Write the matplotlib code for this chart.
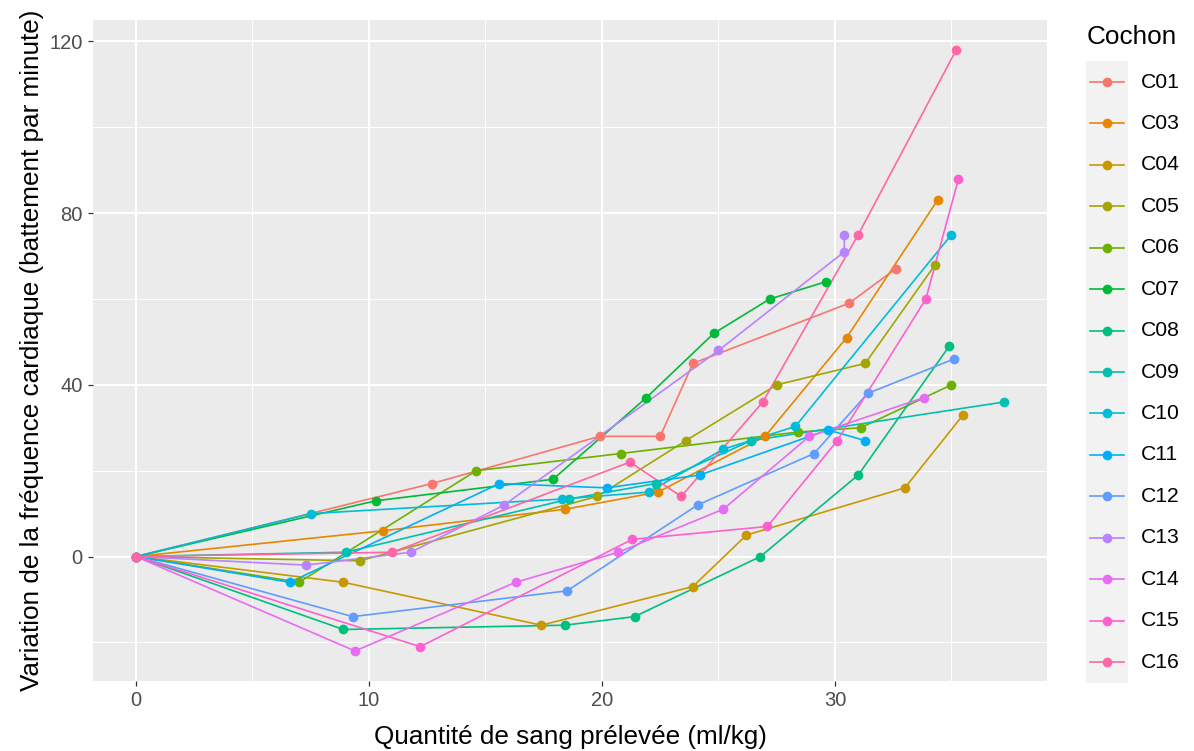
import matplotlib
matplotlib.use("Agg")
import matplotlib.pyplot as plt
from matplotlib.lines import Line2D
from matplotlib.patches import Rectangle
from matplotlib.ticker import MultipleLocator

plt.rcParams['font.family'] = ['Liberation Sans', 'DejaVu Sans']

# ---------------- data ----------------
pigs = ["C01", "C03", "C04", "C05", "C06", "C07", "C08", "C09",
        "C10", "C11", "C12", "C13", "C14", "C15", "C16"]

x_C01 = [0, 12.7, 19.9, 22.5, 23.9, 30.6, 32.6]
y_C01 = [0, 17, 28, 28, 45, 59, 67]
x_C03 = [0, 10.6, 18.4, 22.4, 27.0, 30.5, 34.4]
y_C03 = [0, 6, 11, 15, 28, 51, 83]
x_C04 = [0, 8.9, 17.4, 23.9, 26.2, 33.0, 35.5]
y_C04 = [0, -6, -16, -7, 5, 16, 33]
x_C05 = [0, 9.6, 19.8, 23.6, 27.5, 31.3, 34.3]
y_C05 = [0, -1, 14, 27, 40, 45, 68]
x_C06 = [0, 7.0, 14.6, 20.8, 28.4, 31.1, 35.0]
y_C06 = [0, -6, 20, 24, 29, 30, 40]
x_C07 = [0, 10.3, 17.9, 21.9, 24.8, 27.2, 29.6]
y_C07 = [0, 13, 18, 37, 52, 60, 64]
x_C08 = [0, 8.9, 18.4, 21.4, 26.8, 31.0, 34.9]
y_C08 = [0, -17, -16, -14, 0, 19, 49]
x_C09 = [0, 9.0, 18.6, 22.3, 26.4, 37.25]
y_C09 = [0, 1, 13.4, 17, 27, 36]
x_C10 = [0, 7.5, 18.3, 22.0, 25.2, 28.3, 35.0]
y_C10 = [0, 10, 13.4, 15, 25, 30.3, 75]
x_C11 = [0, 6.6, 15.6, 20.2, 24.2, 29.7, 31.3]
y_C11 = [0, -6, 17, 16, 19, 29.5, 27]
x_C12 = [0, 9.3, 18.5, 24.1, 29.1, 31.4, 35.1]
y_C12 = [0, -14, -8, 12, 24, 38, 46]
x_C13 = [0, 7.3, 11.8, 15.8, 25.0, 30.4, 30.4]
y_C13 = [0, -2, 1, 12, 48, 71, 75]
x_C14 = [0, 9.4, 16.3, 20.7, 25.2, 28.9, 33.8]
y_C14 = [0, -22, -6, 1, 11, 28, 37]
x_C15 = [0, 12.2, 21.3, 27.1, 30.1, 33.9, 35.3]
y_C15 = [0, -21, 4, 7, 27, 60, 88]
x_C16 = [0, 11.0, 21.2, 23.4, 26.9, 31.0, 35.2]
y_C16 = [0, 1, 22, 14, 36, 75, 118]

x_ticks = [0, 10, 20, 30]
y_ticks = [0, 40, 80, 120]

xs = [x_C01, x_C03, x_C04, x_C05, x_C06, x_C07, x_C08, x_C09,
      x_C10, x_C11, x_C12, x_C13, x_C14, x_C15, x_C16]
ys = [y_C01, y_C03, y_C04, y_C05, y_C06, y_C07, y_C08, y_C09,
      y_C10, y_C11, y_C12, y_C13, y_C14, y_C15, y_C16]

colors = ["#F8766D", "#E58700", "#C99800", "#A3A500", "#6BB100", "#00BA38",
          "#00BF7D", "#00C0AF", "#00BCD8", "#00B0F6", "#619CFF", "#B983FF",
          "#E76BF3", "#FD61D1", "#FF67A4"]

# ---------------- figure ----------------
W, H = 1194, 751
fig = plt.figure(figsize=(W / 100, H / 100), dpi=100)
px_l, px_r, px_t, px_b = 92.6, 1047.3, 20, 681
ax = fig.add_axes([px_l / W, 1 - px_b / H, (px_r - px_l) / W, (px_b - px_t) / H])
ax.set_facecolor("#EBEBEB")
for s in ax.spines.values():
    s.set_visible(False)

LW = 1.2
MS = 7.0
for xv, yv, c in zip(xs, ys, colors):
    ax.plot(xv, yv, color=c, lw=LW, zorder=3, solid_capstyle='butt')
for xv, yv, c in zip(xs, ys, colors):
    ax.plot(xv, yv, linestyle='none', marker='o', ms=MS, color=c,
            markeredgewidth=0, zorder=4)

allx = [v for xv in xs for v in xv]
ally = [v for yv in ys for v in yv]
dx = (max(allx) - min(allx)) * 0.05
dy = (max(ally) - min(ally)) * 0.05
ax.set_xlim(min(allx) - dx, max(allx) + dx)
ax.set_ylim(min(ally) - dy, max(ally) + dy)

ax.set_xticks(x_ticks)
ax.set_yticks(y_ticks)
ax.xaxis.set_minor_locator(MultipleLocator(5))
ax.yaxis.set_minor_locator(MultipleLocator(20))
ax.grid(which='major', color='white', lw=1.45, zorder=0)
ax.grid(which='minor', color='white', lw=0.75, zorder=0)
ax.set_axisbelow(True)
ax.tick_params(which='major', length=3.6, width=0.9, color='#333333',
               labelsize=14.5, labelcolor='#4D4D4D', pad=3.5)
ax.tick_params(which='minor', length=0)

ax.set_xlabel("Quantité de sang prélevée (ml/kg)", fontsize=18.8, color='black',
              labelpad=11)
ax.set_ylabel("Variation de la fréquence cardiaque (battement par minute)",
              fontsize=18.8, color='black', labelpad=4)

# ---------------- legend (ggplot style) ----------------
def fx(p):
    return p / W

def fy(p):
    return 1 - p / H

fig.text(fx(1087), fy(37), "Cochon", fontsize=18.8, ha='left', va='center')
row0, step = 82, 41.43
strip_top = row0 - step / 2
strip_bot = row0 + step * (len(pigs) - 1) + step / 2
fig.add_artist(Rectangle((fx(1086), fy(strip_bot)), fx(1128) - fx(1086),
                         fy(strip_top) - fy(strip_bot), transform=fig.transFigure,
                         facecolor="#F2F2F2", edgecolor='none', zorder=0))
for i, (name, c) in enumerate(zip(pigs, colors)):
    yy = fy(row0 + i * step)
    fig.add_artist(Line2D([fx(1090), fx(1124)], [yy, yy], transform=fig.transFigure,
                          color=c, lw=LW, zorder=2))
    fig.add_artist(Line2D([fx(1107)], [yy], transform=fig.transFigure, color=c,
                          marker='o', ms=MS, markeredgewidth=0, zorder=3))
    fig.text(fx(1141), yy, name, fontsize=15.2, ha='left', va='center')

fig.savefig("out.png", dpi=100)
